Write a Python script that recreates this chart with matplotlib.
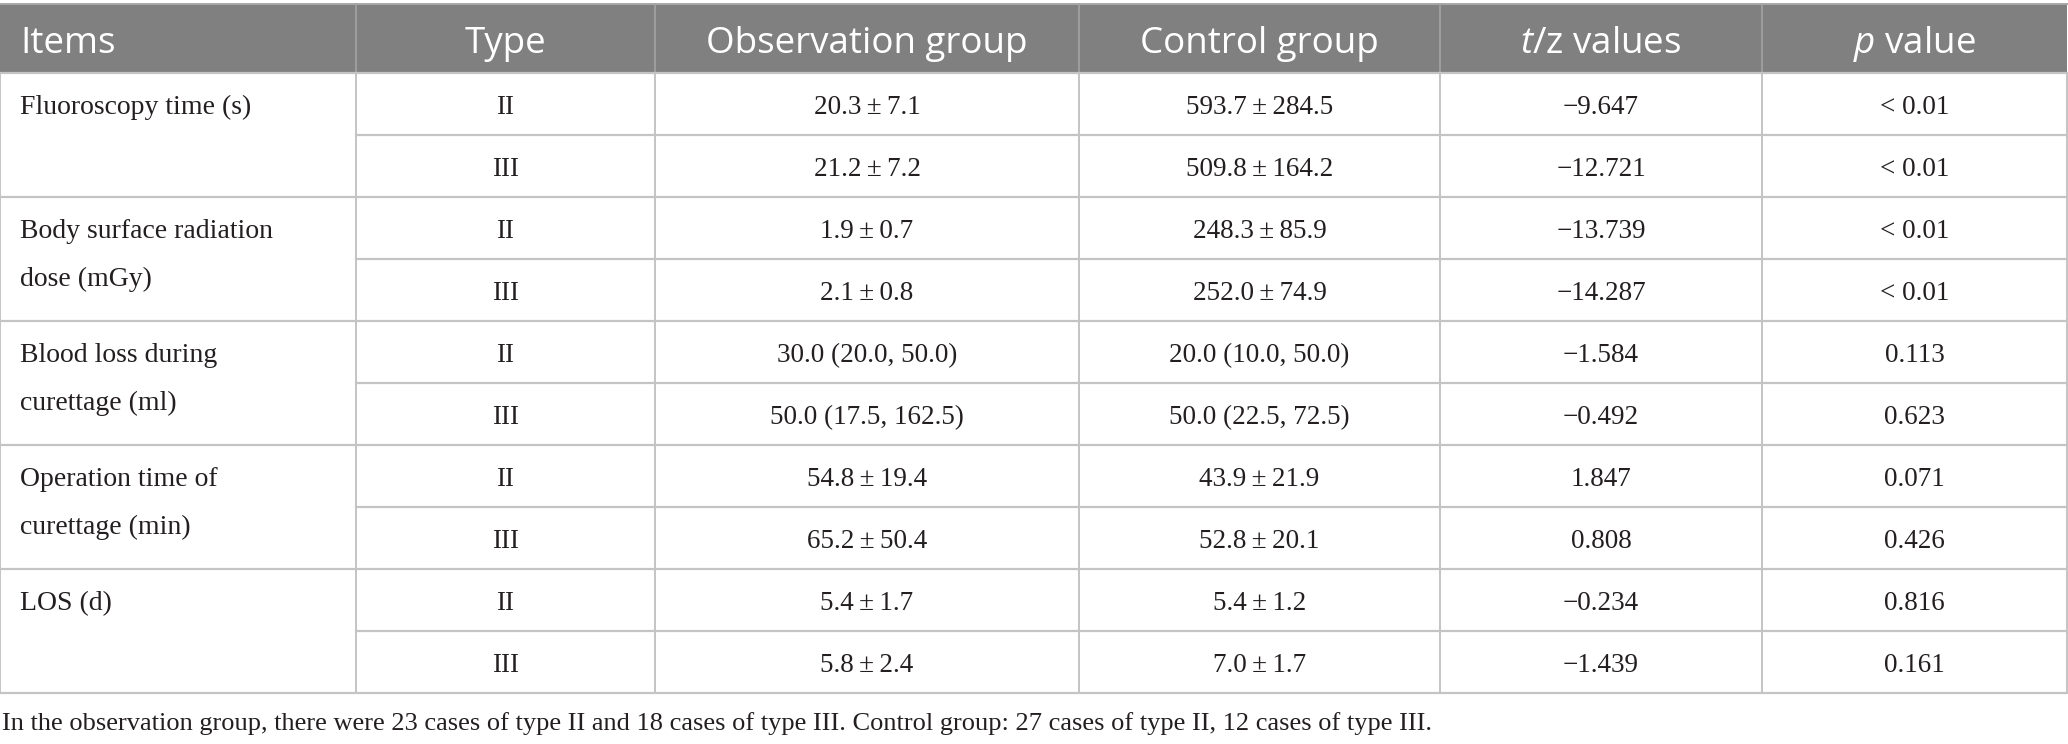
"""Table of intraoperative outcomes, observation vs control group."""

import matplotlib
matplotlib.use("Agg")
import matplotlib.pyplot as plt

plt.rcParams["mathtext.fontset"] = "custom"
plt.rcParams["mathtext.it"] = "Open Sans:italic"
plt.rcParams["mathtext.rm"] = "Open Sans"

# ---- table content ----
headers = ["Items", "Type", "Observation group", "Control group",
           r"$t$/z values", r"$p$ value"]
items = ["Fluoroscopy time (s)",
         "Body surface radiation\ndose (mGy)",
         "Blood loss during\ncurettage (ml)",
         "Operation time of\ncurettage (min)",
         "LOS (d)"]
types = ["II", "III"]
PM = "\u2009\u00b1\u2009"
obs_group = ["20.3" + PM + "7.1", "21.2" + PM + "7.2",
             "1.9" + PM + "0.7", "2.1" + PM + "0.8",
             "30.0 (20.0, 50.0)", "50.0 (17.5, 162.5)",
             "54.8" + PM + "19.4", "65.2" + PM + "50.4",
             "5.4" + PM + "1.7", "5.8" + PM + "2.4"]
ctrl_group = ["593.7" + PM + "284.5", "509.8" + PM + "164.2",
              "248.3" + PM + "85.9", "252.0" + PM + "74.9",
              "20.0 (10.0, 50.0)", "50.0 (22.5, 72.5)",
              "43.9" + PM + "21.9", "52.8" + PM + "20.1",
              "5.4" + PM + "1.2", "7.0" + PM + "1.7"]
tz_values = ["\u22129.647", "\u221212.721", "\u221213.739", "\u221214.287",
             "\u22121.584", "\u22120.492", "1.847", "0.808",
             "\u22120.234", "\u22121.439"]
p_values = ["< 0.01", "< 0.01", "< 0.01", "< 0.01", "0.113", "0.623",
            "0.071", "0.426", "0.816", "0.161"]
footnote = ("In the observation group, there were 23 cases of type II and 18 cases "
            "of type III. Control group: 27 cases of type II, 12 cases of type III.")

# ---- layout (pixels) ----
W, H = 2068, 744
col_edges = [0, 356, 655, 1079, 1440, 1762, 2067]
head_top, head_bot = 4, 73
row_h = 62
n_rows = len(obs_group)
body_bot = head_bot + n_rows * row_h

HEAD_BG = "#808080"
LINE = "#c4c4c4"
TEXT = "#231f20"
SERIF = "Liberation Serif"
BODY_FS = 19.5
HEAD_FS = 26.5

fig = plt.figure(figsize=(W / 100, H / 100), dpi=100)
ax = fig.add_axes([0, 0, 1, 1])
ax.set_xlim(0, W)
ax.set_ylim(H, 0)
ax.axis("off")

# header band
ax.add_patch(plt.Rectangle((0, head_top), col_edges[-1], head_bot - head_top,
                           facecolor=HEAD_BG, edgecolor="none"))
ax.plot([0, col_edges[-1]], [head_top, head_top], color="#a8a8a8", lw=1.4)
for x in col_edges[1:-1]:
    ax.plot([x, x], [head_top, head_bot], color="#a3a3a3", lw=1.2)

for i, h in enumerate(headers):
    if i == 0:
        ax.text(col_edges[0] + 20, 53, h, ha="left", va="baseline",
                fontsize=HEAD_FS, family="Open Sans", color="white")
    else:
        cx = (col_edges[i] + col_edges[i + 1]) / 2
        ax.text(cx, 53, h, ha="center", va="baseline",
                fontsize=HEAD_FS, family="Open Sans", color="white")

# body grid
for x in col_edges:
    ax.plot([x, x], [head_bot, body_bot], color=LINE, lw=1.4)
for r in range(n_rows + 1):
    y = head_bot + r * row_h
    x0 = 0 if r % 2 == 0 else col_edges[1]
    ax.plot([x0, col_edges[-1]], [y, y], color=LINE, lw=1.6)

# body text
columns = [obs_group, ctrl_group, tz_values, p_values]
for r in range(n_rows):
    base = head_bot + r * row_h + row_h / 2 + 10
    cx = (col_edges[1] + col_edges[2]) / 2
    ax.text(cx, base, types[r % 2], ha="center", va="baseline",
            fontsize=BODY_FS, family=SERIF, color=TEXT)
    for c, vals in enumerate(columns):
        cx = (col_edges[c + 2] + col_edges[c + 3]) / 2
        ax.text(cx, base, vals[r], ha="center", va="baseline",
                fontsize=BODY_FS, family=SERIF, color=TEXT)

for g, item in enumerate(items):
    base = head_bot + 2 * g * row_h + row_h / 2 + 10
    for k, line in enumerate(item.split("\n")):
        ax.text(20, base + k * 48, line, ha="left", va="baseline",
                fontsize=BODY_FS + 0.5, family=SERIF, color=TEXT)

ax.text(2, 730, footnote, ha="left", va="baseline",
        fontsize=19, family=SERIF, color=TEXT)

fig.savefig("out.png", dpi=100)
